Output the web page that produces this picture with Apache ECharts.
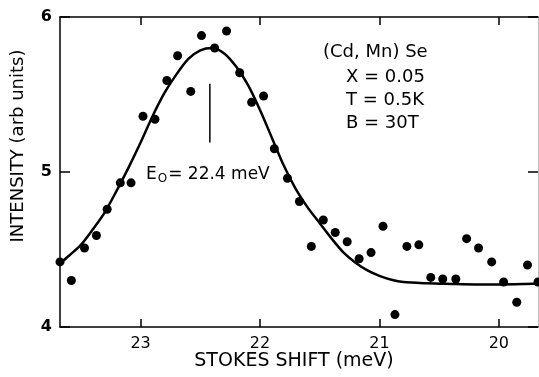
<html>
<head>
<meta charset="utf-8">
<script src="https://cdn.jsdelivr.net/npm/echarts@6/dist/echarts.min.js"></script>
</head>
<body style="margin:0">
<div id="chart1" style="width:539px;height:377px"></div>
<script>
  let shift = [23.675, 23.58, 23.47, 23.37, 23.28, 23.17, 23.08, 22.98, 22.88, 22.78,
    22.69, 22.58, 22.49, 22.38, 22.28, 22.17, 22.07, 21.97, 21.88, 21.77,
    21.67, 21.57, 21.47, 21.37, 21.27, 21.17, 21.07, 20.97, 20.87, 20.77,
    20.67, 20.57, 20.47, 20.36, 20.27, 20.17, 20.06, 19.96, 19.85, 19.76, 19.672];
  let intensity = [4.42, 4.30, 4.51, 4.59, 4.76, 4.93, 4.93, 5.36, 5.34, 5.59,
    5.75, 5.52, 5.88, 5.80, 5.91, 5.64, 5.45, 5.49, 5.15, 4.96,
    4.81, 4.52, 4.69, 4.61, 4.55, 4.44, 4.48, 4.65, 4.08, 4.52,
    4.53, 4.32, 4.31, 4.31, 4.57, 4.51, 4.42, 4.29, 4.16, 4.40, 4.29];

  // fitted curve
  let fitShift = [23.675, 23.6, 23.5, 23.4, 23.3, 23.2, 23.1, 23.0, 22.9, 22.8,
    22.7, 22.6, 22.5, 22.4, 22.3, 22.2, 22.1, 22.0, 21.9, 21.8,
    21.7, 21.6, 21.5, 21.4, 21.3, 21.2, 21.1, 21.0, 20.9, 20.8,
    20.6, 20.4, 20.2, 20.0, 19.8, 19.672];
  let fitIntensity = [4.41, 4.46, 4.53, 4.63, 4.74, 4.88, 5.03, 5.19, 5.36, 5.51,
    5.63, 5.73, 5.785, 5.80, 5.765, 5.68, 5.56, 5.40, 5.22, 5.04,
    4.89, 4.77, 4.67, 4.57, 4.48, 4.415, 4.365, 4.33, 4.305, 4.29,
    4.282, 4.278, 4.275, 4.275, 4.277, 4.28];

  let xTicks = [20, 21, 22, 23];
  let peak = 22.42;
  let peakMark = [5.57, 5.19];

  let font = 'DejaVu Sans';

  let points = [];
  for (let i = 0; i < shift.length; i++) {
    points.push([shift[i], intensity[i]]);
  }
  let fit = [];
  for (let i = 0; i < fitShift.length; i++) {
    fit.push([fitShift[i], fitIntensity[i]]);
  }

  let myChart = echarts.init(document.getElementById('chart1'));
  let option = {
    animation: false,
    backgroundColor: '#fff',
    grid: { left: 60, right: 1, top: 17, bottom: 50 },
    xAxis: [{
      type: 'value', inverse: true, min: 19.672, max: 23.675, position: 'bottom',
      axisLine: { lineStyle: { color: '#000', width: 1.5 } },
      axisTick: { inside: true, length: 8, customValues: xTicks, lineStyle: { color: '#000', width: 1.5 } },
      axisLabel: { customValues: xTicks, margin: 9, color: '#000', fontSize: 16, fontFamily: font },
      splitLine: { show: false }
    }, {
      type: 'value', inverse: true, min: 19.672, max: 23.675, position: 'top',
      axisLine: { lineStyle: { color: '#000', width: 1.5 } },
      axisTick: { inside: true, length: 8, customValues: xTicks, lineStyle: { color: '#000', width: 1.5 } },
      axisLabel: { show: false },
      splitLine: { show: false }
    }],
    yAxis: [{
      type: 'value', min: 4, max: 6, interval: 1, position: 'left',
      axisLine: { show: true, lineStyle: { color: '#000', width: 1.5 } },
      axisTick: { show: true, inside: true, length: 10, lineStyle: { color: '#000', width: 1.5 } },
      axisLabel: { margin: 8, color: '#000', fontSize: 16, fontWeight: 'bold', fontFamily: font },
      splitLine: { show: false }
    }, {
      type: 'value', min: 4, max: 6, interval: 1, position: 'right',
      axisLine: { show: true, lineStyle: { color: '#bbb', width: 1 } },
      axisTick: { show: true, inside: true, length: 10, lineStyle: { color: '#000', width: 1.5 } },
      axisLabel: { show: false },
      splitLine: { show: false }
    }],
    graphic: [
      { type: 'text', x: 18, y: 146, rotation: Math.PI / 2,
        style: { text: 'INTENSITY (arb units)', fill: '#000', font: '18px "DejaVu Sans"',
          align: 'center', verticalAlign: 'middle' } },
      { type: 'text', x: 294, y: 361,
        style: { text: 'STOKES SHIFT (meV)', fill: '#000', font: '19px "DejaVu Sans"',
          align: 'center', verticalAlign: 'middle' } },
      { type: 'text', x: 323, y: 52,
        style: { text: '(Cd, Mn) Se', fill: '#000', font: '18px "DejaVu Sans"', verticalAlign: 'middle' } },
      { type: 'text', x: 346, y: 77,
        style: { text: 'X = 0.05', fill: '#000', font: '18px "DejaVu Sans"', verticalAlign: 'middle' } },
      { type: 'text', x: 346, y: 100,
        style: { text: 'T = 0.5K', fill: '#000', font: '18px "DejaVu Sans"', verticalAlign: 'middle' } },
      { type: 'text', x: 346, y: 123,
        style: { text: 'B = 30T', fill: '#000', font: '18px "DejaVu Sans"', verticalAlign: 'middle' } },
      { type: 'text', x: 146, y: 175,
        style: {
          text: '{m|E}{s|O}{m|= 22.4 meV}',
          verticalAlign: 'middle',
          rich: {
            m: { fontFamily: font, fontSize: 17, fill: '#000' },
            s: { fontFamily: font, fontSize: 12, fill: '#000', padding: [8, 1, 0, 1] }
          }
        } }
    ],
    series: [{
      type: 'line', data: fit, smooth: 0.3, symbol: 'none',
      lineStyle: { color: '#000', width: 2.5 }, z: 2
    }, {
      type: 'scatter', data: points, symbolSize: 9,
      itemStyle: { color: '#000', opacity: 1 }, z: 3
    }, {
      type: 'line', data: [[peak, peakMark[0]], [peak, peakMark[1]]], symbol: 'none',
      lineStyle: { color: '#000', width: 1.5 }
    }]
  };
  myChart.setOption(option);
</script>
</body>
</html>
